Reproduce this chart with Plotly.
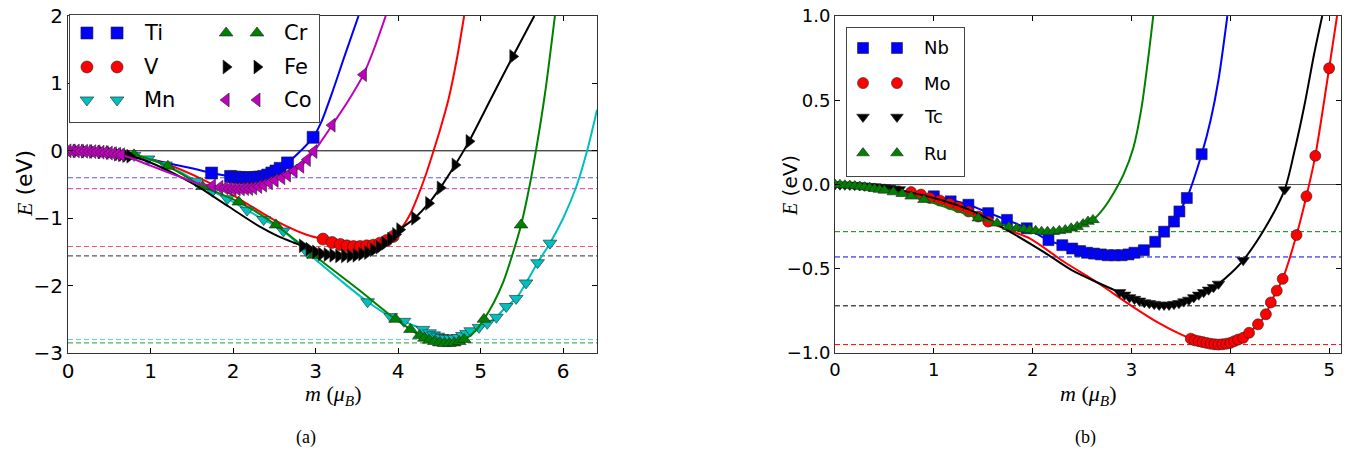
import plotly.graph_objects as go

# ======================= panel (a) data : m (mu_B), E (eV) =======================
TI_LINE_M = [0.0, 0.4, 0.8, 1.2, 1.5, 1.74, 1.97, 2.17, 2.37, 2.52, 2.66, 2.82, 2.97, 3.07, 3.2, 3.35, 3.52]
TI_LINE_E = [0.0, -0.01, -0.07, -0.18, -0.26, -0.33, -0.38, -0.40, -0.38, -0.30, -0.18, 0.0, 0.20, 0.43, 0.86, 1.40, 2.0]
TI_PTS_M = [1.74, 1.97, 2.02, 2.07, 2.12, 2.17, 2.22, 2.27, 2.32, 2.37, 2.42, 2.47, 2.52, 2.57, 2.66, 2.97]
TI_PTS_E = [-0.33, -0.38, -0.39, -0.395, -0.40, -0.40, -0.40, -0.395, -0.39, -0.38, -0.36, -0.33, -0.30, -0.26, -0.18, 0.20]

V_LINE_M = [0.0, 0.4, 0.8, 1.2, 1.64, 2.0, 2.49, 2.9, 3.09, 3.3, 3.5, 3.7, 3.9, 3.96, 4.05, 4.15, 4.25, 4.34, 4.43, 4.52, 4.61, 4.71, 4.8]
V_LINE_E = [0.0, -0.01, -0.07, -0.2, -0.43, -0.66, -1.02, -1.25, -1.31, -1.39, -1.42, -1.40, -1.30, -1.24, -1.13, -0.93, -0.64, -0.34, 0.0, 0.36, 0.76, 1.35, 2.0]
V_PTS_M = [3.09, 3.2, 3.3, 3.38, 3.46, 3.54, 3.62, 3.7, 3.78, 3.86, 3.94]
V_PTS_E = [-1.31, -1.36, -1.39, -1.41, -1.42, -1.42, -1.41, -1.40, -1.37, -1.33, -1.27]

MN_LINE_M = [0.0, 0.4, 0.8, 1.0, 1.18, 1.4, 1.55, 1.75, 1.93, 2.17, 2.37, 2.61, 2.9, 3.3, 3.63, 3.91, 4.07, 4.3, 4.5, 4.65, 4.78, 4.88, 4.98, 5.08, 5.19, 5.31, 5.43, 5.55, 5.69, 5.84, 6.0, 6.16, 6.29, 6.41]
MN_LINE_E = [0.0, -0.01, -0.07, -0.13, -0.21, -0.34, -0.45, -0.6, -0.71, -0.88, -1.02, -1.19, -1.51, -1.92, -2.24, -2.46, -2.53, -2.65, -2.75, -2.78, -2.74, -2.67, -2.62, -2.56, -2.47, -2.31, -2.19, -1.96, -1.66, -1.37, -1.0, -0.53, 0.0, 0.61]
MN_PTS_M = [0.8, 0.97, 1.18, 1.55, 1.75, 1.93, 2.17, 2.37, 2.61, 2.9, 3.63, 3.91, 4.07, 4.3, 4.38, 4.43, 4.48, 4.53, 4.58, 4.63, 4.68, 4.73, 4.78, 4.83, 4.88, 4.98, 5.08, 5.19, 5.31, 5.43, 5.55, 5.69, 5.84]
MN_PTS_E = [-0.07, -0.12, -0.21, -0.45, -0.6, -0.71, -0.88, -1.02, -1.19, -1.51, -2.24, -2.46, -2.53, -2.65, -2.70, -2.73, -2.75, -2.77, -2.78, -2.78, -2.78, -2.77, -2.74, -2.71, -2.67, -2.62, -2.56, -2.47, -2.31, -2.19, -1.96, -1.66, -1.37]

CR_LINE_M = [0.0, 0.4, 0.8, 1.0, 1.21, 1.4, 1.63, 1.85, 2.07, 2.3, 2.52, 2.75, 2.98, 3.5, 3.97, 4.15, 4.26, 4.4, 4.55, 4.7, 4.83, 4.94, 5.04, 5.16, 5.27, 5.38, 5.49, 5.58, 5.67, 5.78, 5.9]
CR_LINE_E = [0.0, -0.01, -0.06, -0.13, -0.23, -0.36, -0.53, -0.64, -0.76, -0.92, -1.1, -1.32, -1.55, -2.04, -2.5, -2.65, -2.74, -2.81, -2.85, -2.85, -2.78, -2.67, -2.5, -2.25, -1.96, -1.56, -1.1, -0.6, 0.0, 0.85, 2.0]
CR_PTS_M = [0.8, 1.21, 1.63, 2.07, 2.52, 2.98, 3.97, 4.15, 4.26, 4.32, 4.38, 4.44, 4.5, 4.56, 4.62, 4.68, 4.74, 4.8, 5.04, 5.49]
CR_PTS_E = [-0.06, -0.23, -0.53, -0.76, -1.1, -1.55, -2.5, -2.65, -2.74, -2.78, -2.81, -2.83, -2.85, -2.86, -2.86, -2.85, -2.83, -2.80, -2.5, -1.1]

FE_LINE_M = [0.0, 0.3, 0.6, 0.75, 0.9, 1.12, 1.35, 1.6, 1.95, 2.33, 2.55, 2.73, 2.84, 2.92, 3.0, 3.14, 3.3, 3.45, 3.6, 3.77, 3.91, 4.02, 4.2, 4.37, 4.51, 4.69, 4.86, 5.12, 5.39, 5.65]
FE_LINE_E = [0.0, -0.01, -0.05, -0.08, -0.13, -0.24, -0.38, -0.55, -0.83, -1.13, -1.27, -1.36, -1.41, -1.46, -1.50, -1.54, -1.56, -1.56, -1.52, -1.43, -1.31, -1.17, -1.0, -0.78, -0.55, -0.21, 0.14, 0.76, 1.4, 2.0]
FE_PTS_M = [0.0, 0.1, 0.2, 0.3, 0.4, 0.5, 0.6, 0.65, 0.7, 0.75, 2.84, 2.92, 3.0, 3.07, 3.14, 3.21, 3.28, 3.35, 3.42, 3.49, 3.56, 3.63, 3.7, 3.77, 3.84, 3.91, 3.97, 4.02, 4.2, 4.37, 4.51, 4.69, 4.86, 5.39]
FE_PTS_E = [0.0, -0.002, -0.006, -0.01, -0.017, -0.026, -0.05, -0.06, -0.07, -0.08, -1.41, -1.46, -1.50, -1.53, -1.54, -1.55, -1.56, -1.56, -1.56, -1.55, -1.53, -1.51, -1.47, -1.43, -1.37, -1.31, -1.24, -1.17, -1.0, -0.78, -0.55, -0.21, 0.14, 1.4]

CO_LINE_M = [0.0, 0.35, 0.67, 1.0, 1.3, 1.57, 1.75, 1.9, 2.05, 2.2, 2.37, 2.51, 2.66, 2.82, 2.98, 3.2, 3.4, 3.58, 3.72, 3.85]
CO_LINE_E = [0.0, -0.015, -0.07, -0.22, -0.36, -0.48, -0.52, -0.55, -0.565, -0.56, -0.51, -0.44, -0.36, -0.23, -0.01, 0.38, 0.75, 1.13, 1.55, 2.0]
CO_PTS_M = [0.0, 0.05, 0.1, 0.15, 0.2, 0.25, 0.3, 0.35, 0.4, 0.45, 0.5, 0.55, 0.6, 0.65, 1.75, 1.84, 1.9, 1.95, 2.0, 2.05, 2.1, 2.15, 2.2, 2.25, 2.31, 2.37, 2.44, 2.51, 2.59, 2.66, 2.74, 2.82, 2.9, 2.98, 3.2, 3.58]
CO_PTS_E = [0.0, -0.001, -0.002, -0.004, -0.006, -0.009, -0.012, -0.015, -0.02, -0.026, -0.033, -0.041, -0.05, -0.06, -0.52, -0.54, -0.55, -0.56, -0.565, -0.565, -0.565, -0.56, -0.56, -0.55, -0.53, -0.51, -0.475, -0.44, -0.40, -0.36, -0.30, -0.23, -0.13, -0.01, 0.38, 1.13]

# minimum energies (dashed reference lines), panel (a)
A_MIN_NAMES = ["Ti", "Co", "V", "Fe", "Mn", "Cr"]
A_MIN_E = [-0.40, -0.56, -1.42, -1.56, -2.80, -2.85]

# ======================= panel (b) data =======================
NB_LINE_M = [0.0, 0.5, 1.0, 1.35, 1.56, 1.74, 1.94, 2.16, 2.4, 2.6, 2.8, 3.0, 3.125, 3.24, 3.33, 3.43, 3.485, 3.56, 3.71, 3.8, 3.88, 3.97]
NB_LINE_E = [0.0, -0.02, -0.07, -0.12, -0.17, -0.21, -0.26, -0.33, -0.38, -0.41, -0.42, -0.41, -0.39, -0.34, -0.28, -0.22, -0.16, -0.08, 0.18, 0.38, 0.62, 1.0]
NB_PTS_M = [1.0, 1.17, 1.35, 1.55, 1.74, 1.94, 2.16, 2.3, 2.4, 2.48, 2.55, 2.62, 2.69, 2.76, 2.83, 2.9, 2.97, 3.03, 3.125, 3.24, 3.33, 3.43, 3.485, 3.56, 3.71]
NB_PTS_E = [-0.07, -0.1, -0.12, -0.17, -0.21, -0.26, -0.33, -0.36, -0.38, -0.395, -0.405, -0.41, -0.415, -0.42, -0.42, -0.42, -0.415, -0.405, -0.39, -0.34, -0.28, -0.22, -0.16, -0.08, 0.18]

MO_LINE_M = [0.0, 0.4, 0.77, 0.96, 1.16, 1.35, 1.55, 1.75, 1.97, 2.32, 2.65, 3.0, 3.27, 3.5, 3.6, 3.75, 3.87, 4.0, 4.13, 4.19, 4.28, 4.36, 4.41, 4.47, 4.53, 4.67, 4.77, 4.86, 5.0, 5.08]
MO_LINE_E = [0.0, -0.02, -0.045, -0.08, -0.115, -0.16, -0.22, -0.27, -0.32, -0.46, -0.58, -0.72, -0.82, -0.89, -0.915, -0.94, -0.95, -0.94, -0.91, -0.88, -0.83, -0.77, -0.70, -0.63, -0.56, -0.30, -0.07, 0.17, 0.69, 1.0]
MO_PTS_M = [0.77, 0.87, 0.96, 1.06, 1.16, 1.25, 1.35, 1.45, 1.55, 3.6, 3.64, 3.68, 3.72, 3.76, 3.8, 3.84, 3.88, 3.92, 3.96, 4.0, 4.04, 4.08, 4.13, 4.19, 4.28, 4.36, 4.41, 4.47, 4.53, 4.67, 4.77, 4.86, 5.0]
MO_PTS_E = [-0.045, -0.06, -0.08, -0.095, -0.115, -0.135, -0.16, -0.19, -0.22, -0.915, -0.925, -0.93, -0.935, -0.94, -0.945, -0.948, -0.95, -0.948, -0.945, -0.94, -0.93, -0.92, -0.91, -0.88, -0.83, -0.77, -0.70, -0.63, -0.56, -0.30, -0.07, 0.17, 0.69]

TC_LINE_M = [0.0, 0.5, 1.0, 1.4, 1.71, 2.11, 2.4, 2.65, 2.88, 3.0, 3.15, 3.3, 3.45, 3.6, 3.75, 3.88, 4.0, 4.13, 4.35, 4.55, 4.65, 4.75, 4.85, 4.93]
TC_LINE_E = [0.0, -0.02, -0.08, -0.16, -0.26, -0.40, -0.51, -0.58, -0.64, -0.67, -0.70, -0.715, -0.71, -0.685, -0.64, -0.59, -0.53, -0.45, -0.26, -0.03, 0.2, 0.47, 0.78, 1.0]
TC_PTS_M = [0.0, 0.05, 0.1, 0.15, 0.2, 0.25, 0.3, 0.35, 0.4, 0.45, 0.5, 0.55, 0.6, 0.65, 2.88, 2.93, 2.98, 3.03, 3.08, 3.13, 3.18, 3.23, 3.28, 3.33, 3.38, 3.43, 3.48, 3.53, 3.58, 3.63, 3.68, 3.73, 3.78, 3.83, 3.88, 4.13, 4.55]
TC_PTS_E = [0.0, -0.001, -0.002, -0.003, -0.004, -0.006, -0.008, -0.01, -0.012, -0.015, -0.018, -0.021, -0.025, -0.029, -0.64, -0.655, -0.67, -0.68, -0.69, -0.70, -0.705, -0.71, -0.715, -0.715, -0.715, -0.71, -0.705, -0.695, -0.685, -0.67, -0.655, -0.64, -0.625, -0.61, -0.59, -0.45, -0.03]

RU_LINE_M = [0.0, 0.3, 0.59, 0.77, 0.9, 1.2, 1.45, 1.64, 1.84, 2.0, 2.15, 2.3, 2.45, 2.61, 2.72, 2.82, 2.92, 3.02, 3.1, 3.18, 3.22]
RU_LINE_E = [0.0, -0.01, -0.04, -0.07, -0.09, -0.15, -0.2, -0.23, -0.26, -0.275, -0.28, -0.27, -0.25, -0.21, -0.14, -0.05, 0.06, 0.22, 0.45, 0.8, 1.0]
RU_PTS_M = [0.0, 0.05, 0.1, 0.15, 0.2, 0.25, 0.3, 0.35, 0.4, 0.45, 0.5, 0.59, 0.68, 0.77, 0.9, 1.45, 1.64, 1.76, 1.84, 1.91, 1.97, 2.03, 2.09, 2.15, 2.21, 2.27, 2.33, 2.39, 2.45, 2.51, 2.56, 2.61]
RU_PTS_E = [0.0, -0.002, -0.004, -0.006, -0.009, -0.012, -0.016, -0.02, -0.025, -0.03, -0.035, -0.045, -0.055, -0.07, -0.09, -0.2, -0.23, -0.25, -0.26, -0.265, -0.27, -0.275, -0.28, -0.28, -0.28, -0.275, -0.27, -0.26, -0.25, -0.235, -0.22, -0.21]

B_MIN_NAMES = ["Ru", "Nb", "Tc", "Mo"]
B_MIN_E = [-0.28, -0.43, -0.72, -0.95]

# tick values
A_XTICKS = [0, 1, 2, 3, 4, 5, 6]
A_YTICKS = [-3, -2, -1, 0, 1, 2]
B_XTICKS = [0, 1, 2, 3, 4, 5]
B_YTICKS = [-1.0, -0.5, 0.0, 0.5, 1.0]

# ======================= styling / layout =======================
W, H = 1349, 457
COL = {"Ti": "#0000ff", "V": "#ff0000", "Mn": "#00bfbf", "Cr": "#008000", "Fe": "#000000", "Co": "#bf00bf",
       "Nb": "#0000ff", "Mo": "#ff0000", "Tc": "#000000", "Ru": "#008000"}
SYM = {"Ti": "square", "V": "circle", "Mn": "triangle-down", "Cr": "triangle-up", "Fe": "triangle-right",
       "Co": "triangle-left", "Nb": "square", "Mo": "circle", "Tc": "triangle-down", "Ru": "triangle-up"}

A_SERIES = [("Ti", TI_LINE_M, TI_LINE_E, TI_PTS_M, TI_PTS_E),
            ("V", V_LINE_M, V_LINE_E, V_PTS_M, V_PTS_E),
            ("Mn", MN_LINE_M, MN_LINE_E, MN_PTS_M, MN_PTS_E),
            ("Cr", CR_LINE_M, CR_LINE_E, CR_PTS_M, CR_PTS_E),
            ("Fe", FE_LINE_M, FE_LINE_E, FE_PTS_M, FE_PTS_E),
            ("Co", CO_LINE_M, CO_LINE_E, CO_PTS_M, CO_PTS_E)]
B_SERIES = [("Nb", NB_LINE_M, NB_LINE_E, NB_PTS_M, NB_PTS_E),
            ("Mo", MO_LINE_M, MO_LINE_E, MO_PTS_M, MO_PTS_E),
            ("Tc", TC_LINE_M, TC_LINE_E, TC_PTS_M, TC_PTS_E),
            ("Ru", RU_LINE_M, RU_LINE_E, RU_PTS_M, RU_PTS_E)]


def fx(p):
    return p / W


def fy(p):
    return 1 - p / H


def marker(name, size):
    return dict(symbol=SYM[name], size=size, color=COL[name], line=dict(color="#222222", width=0.6))


fig = go.Figure()

for (name, lm, le, pm, pe) in A_SERIES:
    fig.add_trace(go.Scatter(x=lm, y=le, mode="lines", xaxis="x", yaxis="y",
                             line=dict(color=COL[name], width=2, shape="spline", smoothing=0.8),
                             showlegend=False, hoverinfo="skip"))
    fig.add_trace(go.Scatter(x=pm, y=pe, mode="markers", xaxis="x", yaxis="y",
                             marker=marker(name, 12), showlegend=False, name=name))

for (name, lm, le, pm, pe) in B_SERIES:
    fig.add_trace(go.Scatter(x=lm, y=le, mode="lines", xaxis="x2", yaxis="y2",
                             line=dict(color=COL[name], width=2, shape="spline", smoothing=0.8),
                             showlegend=False, hoverinfo="skip"))
    fig.add_trace(go.Scatter(x=pm, y=pe, mode="markers", xaxis="x2", yaxis="y2",
                             marker=marker(name, 11), showlegend=False, name=name))

# ---- hand-made legends (two markers per entry, matplotlib style) ----
LEG_A = [("Ti", 0.068, 0.189, 0.29, 0.832), ("V", 0.068, 0.189, 0.29, 0.514), ("Mn", 0.068, 0.189, 0.29, 0.206),
         ("Cr", 0.627, 0.751, 0.851, 0.832), ("Fe", 0.627, 0.751, 0.851, 0.514), ("Co", 0.627, 0.751, 0.851, 0.206)]
LEG_B = [("Nb", 0.137, 0.427, 0.641, 0.865), ("Mo", 0.137, 0.427, 0.641, 0.628),
         ("Tc", 0.137, 0.427, 0.641, 0.399), ("Ru", 0.137, 0.427, 0.641, 0.155)]

annotations = []
for (name, m1, m2, tx, ry) in LEG_A:
    fig.add_trace(go.Scatter(x=[m1, m2], y=[ry, ry], mode="markers", xaxis="x3", yaxis="y3",
                             marker=marker(name, 12), showlegend=False, hoverinfo="skip"))
    annotations.append(dict(x=tx, y=ry, xref="x3", yref="y3", text=name, showarrow=False,
                            xanchor="left", yanchor="middle",
                            font=dict(family="DejaVu Sans", size=21, color="black")))
for (name, m1, m2, tx, ry) in LEG_B:
    fig.add_trace(go.Scatter(x=[m1, m2], y=[ry, ry], mode="markers", xaxis="x4", yaxis="y4",
                             marker=marker(name, 11), showlegend=False, hoverinfo="skip"))
    annotations.append(dict(x=tx, y=ry, xref="x4", yref="y4", text=name, showarrow=False,
                            xanchor="left", yanchor="middle",
                            font=dict(family="DejaVu Sans", size=18, color="black")))

# ---- reference lines ----
shapes = []
for name, e in zip(A_MIN_NAMES, A_MIN_E):
    shapes.append(dict(type="line", xref="x domain", yref="y", x0=0, x1=1, y0=e, y1=e, layer="below",
                       opacity=0.65, line=dict(color=COL[name], width=1.2, dash="5px,3px")))
shapes.append(dict(type="line", xref="x domain", yref="y", x0=0, x1=1, y0=0, y1=0, layer="below",
                   line=dict(color="black", width=1)))
for name, e in zip(B_MIN_NAMES, B_MIN_E):
    shapes.append(dict(type="line", xref="x2 domain", yref="y2", x0=0, x1=1, y0=e, y1=e, layer="below",
                       line=dict(color=COL[name], width=1, dash="5px,3px")))
shapes.append(dict(type="line", xref="x2 domain", yref="y2", x0=0, x1=1, y0=0, y1=0, layer="below",
                   line=dict(color="#555555", width=1.2)))

# ---- axis titles & captions ----
XT = "<i>m</i> (<i>μ</i><sub><i>B</i></sub>)"
YT = "<span style='font-family:Liberation Serif'><i>E</i></span> (eV)"
CTR = dict(xref="paper", yref="paper", showarrow=False, xanchor="center", yanchor="middle")
annotations += [
    dict(x=fx(333), y=fy(395), text=XT, font=dict(family="Liberation Serif", size=22, color="black"), **CTR),
    dict(x=fx(1088), y=fy(395), text=XT, font=dict(family="Liberation Serif", size=22, color="black"), **CTR),
    dict(x=fx(24), y=fy(184), text=YT, textangle=-90,
         font=dict(family="DejaVu Sans", size=22, color="black"), **CTR),
    dict(x=fx(790), y=fy(186), text=YT, textangle=-90,
         font=dict(family="DejaVu Sans", size=20, color="black"), **CTR),
    dict(x=fx(306), y=fy(437), text="(a)", font=dict(family="Liberation Serif", size=18, color="black"), **CTR),
    dict(x=fx(1085), y=fy(437), text="(b)", font=dict(family="Liberation Serif", size=18, color="black"), **CTR),
]


def data_axis(domain, rng, tickvals, fsize, anchor, fmt=None):
    d = dict(domain=domain, range=rng, tickvals=tickvals, ticks="inside", ticklen=5, tickwidth=1,
             tickcolor="black", showline=True, linecolor="#333333", linewidth=1, mirror="ticks",
             showgrid=False, zeroline=False, anchor=anchor, automargin=False, fixedrange=True,
             tickfont=dict(family="DejaVu Sans", size=fsize, color="black"))
    if fmt:
        d["tickformat"] = fmt
    return d


def box_axis(domain, anchor):
    return dict(domain=domain, range=[0, 1], showline=True, linecolor="#444444", linewidth=1, mirror=True,
                showticklabels=False, ticks="", showgrid=False, zeroline=False, anchor=anchor,
                automargin=False, fixedrange=True)


YDOM = [fy(353), fy(16)]
fig.update_layout(
    width=W, height=H, template="none",
    margin=dict(l=0, r=0, t=0, b=0),
    paper_bgcolor="white", plot_bgcolor="white", showlegend=False,
    xaxis=data_axis([fx(68), fx(597)], [0, 6.41], A_XTICKS, 20, "y"),
    yaxis=data_axis(YDOM, [-3, 2], A_YTICKS, 20, "x"),
    xaxis2=data_axis([fx(835), fx(1341)], [0, 5.12], B_XTICKS, 18, "y2"),
    yaxis2=data_axis(YDOM, [-1, 1], B_YTICKS, 18, "x2", ".1f"),
    xaxis3=box_axis([fx(70), fx(319)], "y3"),
    yaxis3=box_axis([fy(122), fy(15)], "x3"),
    xaxis4=box_axis([fx(847), fx(964)], "y4"),
    yaxis4=box_axis([fy(176), fy(28)], "x4"),
    shapes=shapes, annotations=annotations,
)

fig.write_html("out.html")
